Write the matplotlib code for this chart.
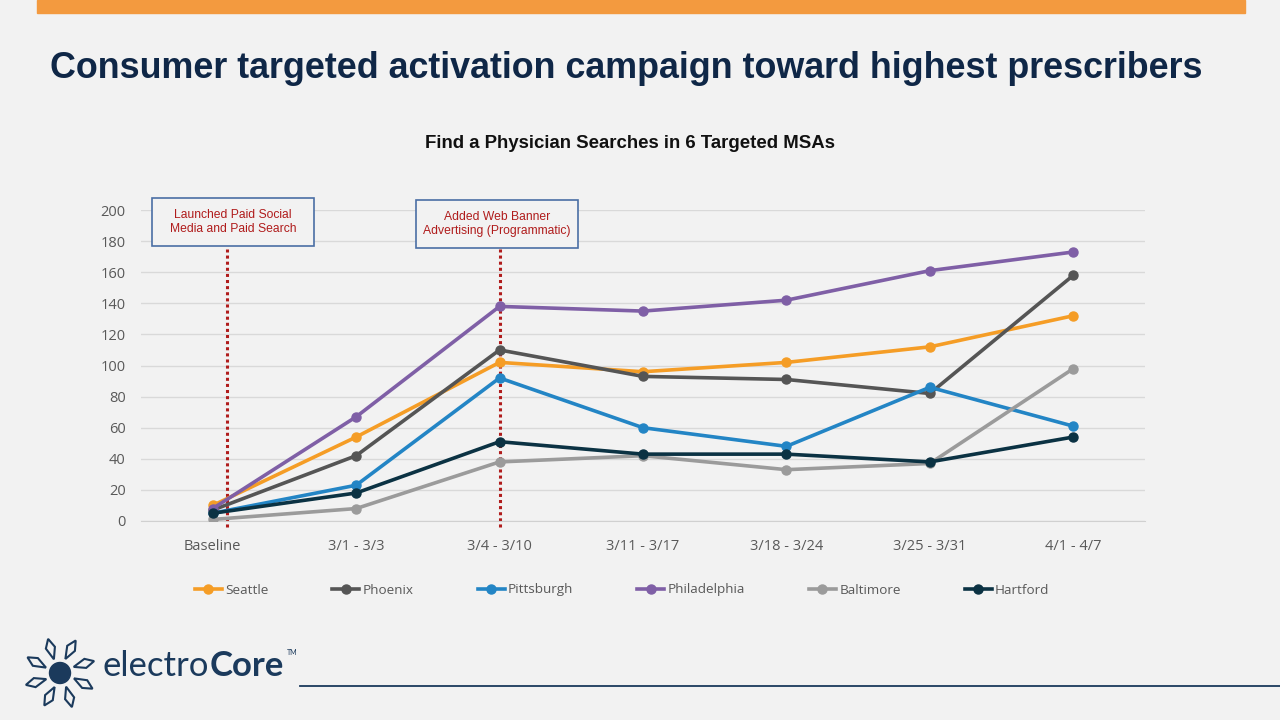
import numpy as np
import matplotlib
matplotlib.use("Agg")
from matplotlib import pyplot as plt
from matplotlib.patches import Rectangle, Polygon, Circle

# data
weeks = ["Baseline", "3/1 - 3/3", "3/4 - 3/10", "3/11 - 3/17",
         "3/18 - 3/24", "3/25 - 3/31", "4/1 - 4/7"]
seattle = [10, 54, 102, 96, 102, 112, 132]
phoenix = [7, 42, 110, 93, 91, 82, 158]
pittsburgh = [5, 23, 92, 60, 48, 86, 61]
philadelphia = [8, 67, 138, 135, 142, 161, 173]
baltimore = [1, 8, 38, 42, 33, 37, 98]
hartford = [5, 18, 51, 43, 43, 38, 54]

series_names = ["Seattle", "Phoenix", "Pittsburgh", "Philadelphia", "Baltimore", "Hartford"]
series_vals = [seattle, phoenix, pittsburgh, philadelphia, baltimore, hartford]
colors = ["#f59d26", "#555555", "#2385c5", "#7f5fa6", "#9b9b9b", "#0b3243"]

# campaign events (x in category units)
event_x = [0.1, 2.0]
event_text = ["Launched Paid Social\nMedia and Paid Search",
              "Added Web Banner\nAdvertising (Programmatic)"]
# callout boxes, pixel layout (left, top, width, height)
event_box = [(152, 198, 162, 48), (416, 200, 162, 48)]

BG = "#f2f2f2"
NAVY = "#0f2747"
W, H = 1280, 720

fig = plt.figure(figsize=(12.8, 7.2), dpi=100, facecolor=BG)

# overlay in pixel coordinates (top-left origin) for the slide decoration
ov = fig.add_axes([0, 0, 1, 1])
ov.set_xlim(0, W)
ov.set_ylim(H, 0)
ov.axis("off")
ov.set_zorder(5)
ov.patch.set_alpha(0)

ov.add_patch(Rectangle((37, 0), 1208, 13, color="#f39a3f"))
ov.text(50, 68, "Consumer targeted activation campaign toward highest prescribers",
        fontsize=25.8, fontweight="bold", color=NAVY, family="Liberation Sans",
        va="center", ha="left")
ov.text(630, 143, "Find a Physician Searches in 6 Targeted MSAs",
        fontsize=13.4, fontweight="bold", color="#111111", family="Liberation Sans",
        va="center", ha="center")

for (bx, by, bw, bh), txt in zip(event_box, event_text):
    ov.add_patch(Rectangle((bx, by), bw, bh, fc=BG, ec="#4a6fa5", lw=1.2))
    ov.text(bx + bw / 2, by + bh / 2, txt, ha="center", va="center",
            linespacing=1.2, fontsize=8.7, color="#b01c1c", family="Liberation Sans")

# chart
ax = fig.add_axes([141 / W, 1 - 521 / H, 1004 / W, 311 / H])
ax.set_facecolor(BG)
x = np.arange(len(weeks))
lines = []
for name, vals, c in zip(series_names, series_vals, colors):
    ln, = ax.plot(x, vals, color=c, lw=2.6, marker="o", ms=6.5, label=name, zorder=3)
    lines.append(ln)

ax.set_xlim(-0.5, len(weeks) - 0.5)
ax.set_ylim(0, 200)
ax.set_yticks(np.arange(0, 201, 20))
ax.set_xticks(x)
ax.set_xticklabels(weeks)
ax.grid(axis="y", color="#d9d9d9", lw=1)
ax.set_axisbelow(True)
for s in ["top", "right", "left"]:
    ax.spines[s].set_visible(False)
ax.spines["bottom"].set_color("#d0d0d0")
ax.tick_params(length=0, labelsize=10.5, labelcolor="#595959")
ax.tick_params(axis="x", pad=13)
ax.tick_params(axis="y", pad=11)
for lab in ax.get_xticklabels() + ax.get_yticklabels():
    lab.set_family("Open Sans")

for ex in event_x:
    ax.plot([ex, ex], [-4, 175], color="#b01c1c", lw=2.2, ls=(0, (1, 1)),
            zorder=2, clip_on=False)

fig.legend(lines, series_names, loc="center", bbox_to_anchor=(622 / W, 1 - 590 / H),
           ncol=6, frameon=False, columnspacing=4.75, handlelength=2.0,
           handletextpad=0.25, prop={"family": "Open Sans", "size": 9.7},
           labelcolor="#595959")

# footer line
ov.plot([300, W], [686, 686], color="#1b3a5c", lw=1.3)

# electroCore logo
lx, ly = 60, 673
logo = "#1b3a5c"
ov.add_patch(Circle((lx, ly), 10.5, color=logo))
for k in range(8):
    a = np.deg2rad(24 + 45 * k)
    u = np.array([np.cos(a), -np.sin(a)])
    v = np.array([-u[1], u[0]])
    pts = [u * 15, u * 26 + v * 6, u * 36 + v * 3, u * 28 - v * 3]
    ov.add_patch(Polygon([(lx + p[0], ly + p[1]) for p in pts], closed=True,
                         fill=False, ec=logo, lw=1.5))
t1 = ov.text(103, 682, "electro", fontsize=25, color=logo,
             family="Lato", fontweight="normal", va="bottom", ha="left")
t2 = ov.annotate("Core", xy=(1, 0), xycoords=t1, fontsize=25, color=logo,
                 family="Lato", fontweight="bold", va="bottom", ha="left")
ov.annotate("TM", xy=(1, 1), xycoords=t2, xytext=(2, 1), textcoords="offset points",
            fontsize=5, color=logo, family="Lato", va="top", ha="left")

fig.savefig("out.png", dpi=100, facecolor=BG)
